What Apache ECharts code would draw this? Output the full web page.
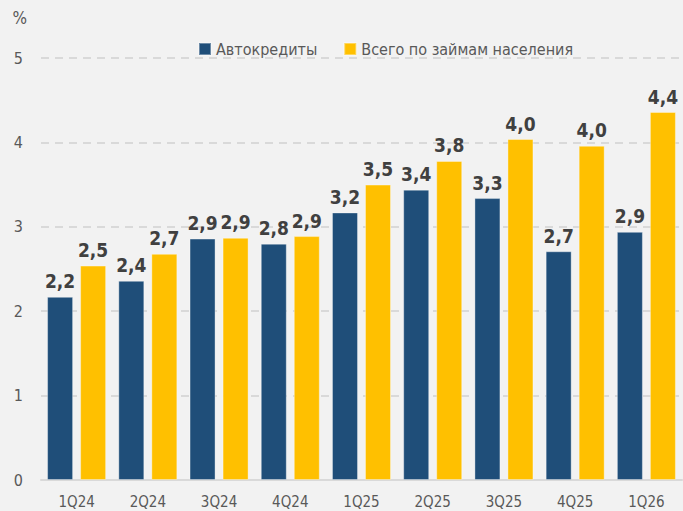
<!DOCTYPE html>
<html>
<head>
<meta charset="utf-8">
<script src="https://cdn.jsdelivr.net/npm/echarts@6/dist/echarts.min.js"></script>
<style>
  html, body { margin: 0; padding: 0; background: #f2f2f2; }
  #chart { width: 683px; height: 511px; }
</style>
</head>
<body>
<div id="chart"></div>
<script>
var quarters = ['1Q24', '2Q24', '3Q24', '4Q24', '1Q25', '2Q25', '3Q25', '4Q25', '1Q26'];
var autoLoans = [2.17, 2.36, 2.86, 2.80, 3.17, 3.44, 3.34, 2.71, 2.94];
var allLoans = [2.54, 2.68, 2.87, 2.89, 3.50, 3.78, 4.04, 3.96, 4.36];
var seriesNames = ['Автокредиты', 'Всего по займам населения'];

var font = "'Liberation Sans Narrow', 'DejaVu Sans Condensed', sans-serif";
var blue = '#1f4e79';
var yellow = '#ffc000';
var grey = '#595959';

var chart = echarts.init(document.getElementById('chart'), null, { renderer: 'svg' });

function barLabel() {
  return {
    show: true,
    position: 'top',
    distance: 6,
    color: '#404040',
    fontFamily: font,
    fontWeight: 'bold',
    fontSize: 19,
    formatter: function(p) { return p.value.toFixed(1).replace('.', ','); }
  };
}

chart.setOption({
  animation: false,
  backgroundColor: '#f2f2f2',
  textStyle: { fontFamily: font },
  legend: {
    data: seriesNames,
    top: 36,
    left: 193,
    itemWidth: 12,
    itemHeight: 12,
    itemGap: 26,
    icon: 'rect',
    textStyle: { color: grey, fontSize: 16, fontFamily: font }
  },
  grid: { left: 41, right: 1, top: 58, bottom: 31, containLabel: false },
  xAxis: {
    type: 'category',
    data: quarters,
    axisLine: { lineStyle: { color: '#d9d9d9', width: 2 } },
    axisTick: { show: false },
    axisLabel: { color: grey, fontSize: 15, margin: 14, fontFamily: font }
  },
  yAxis: {
    type: 'value',
    min: 0,
    max: 5,
    interval: 1,
    name: '%',
    nameLocation: 'end',
    nameGap: 32,
    nameTextStyle: { color: grey, fontSize: 17, align: 'right', padding: [0, 14, 0, 0], fontFamily: font },
    axisLine: { show: false },
    axisTick: { show: false },
    axisLabel: { color: grey, fontSize: 16, margin: 18, fontFamily: font },
    splitLine: { lineStyle: { color: '#d9d9d9', type: [8, 6], width: 2 } }
  },
  series: [
    {
      name: seriesNames[0],
      type: 'bar',
      data: autoLoans,
      barWidth: 26,
      barGap: '27%',
      itemStyle: { color: blue, borderColor: 'rgba(255,255,255,0.35)', borderWidth: 1 },
      label: barLabel()
    },
    {
      name: seriesNames[1],
      type: 'bar',
      data: allLoans,
      barWidth: 26,
      itemStyle: { color: yellow, borderColor: 'rgba(255,255,255,0.35)', borderWidth: 1 },
      label: barLabel()
    }
  ]
});
</script>
</body>
</html>
